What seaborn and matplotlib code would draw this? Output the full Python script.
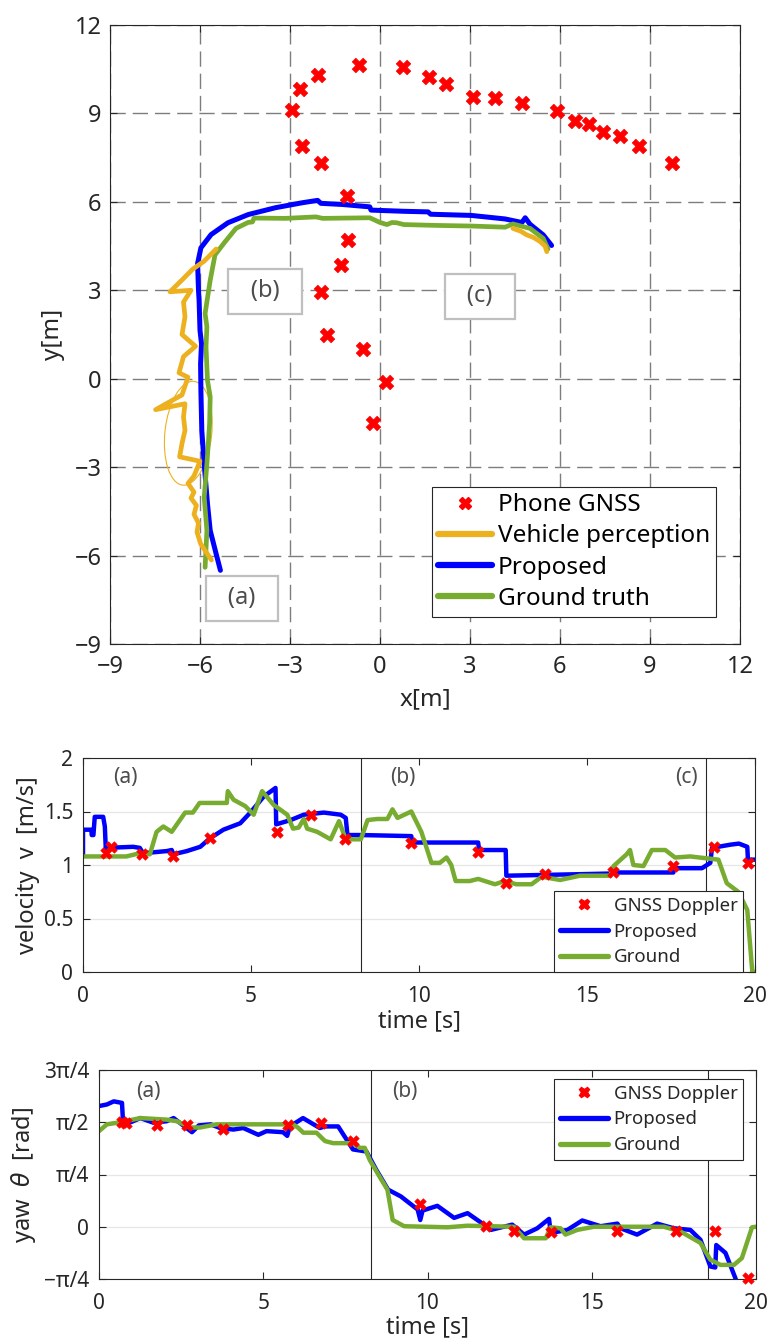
import numpy as np
import pandas as pd
import matplotlib
matplotlib.use("Agg")
import matplotlib.pyplot as plt
import seaborn as sns
from matplotlib.patches import Ellipse
from matplotlib.lines import Line2D

# ---------------------------------------------------------------- data
# 2-D trajectories [x, y] in metres
phone_gnss = np.array([
    [-0.23, -1.51], [0.20, -0.10], [-0.56, 1.02], [-1.75, 1.48], [-1.95, 2.94],
    [-1.31, 3.85], [-1.07, 4.72], [-1.10, 6.20], [-1.97, 7.32], [-2.59, 7.90],
    [-2.92, 9.12], [-2.68, 9.82], [-2.05, 10.31], [-0.71, 10.65], [0.78, 10.59],
    [1.62, 10.22], [2.21, 10.01], [3.11, 9.56], [3.83, 9.54], [4.73, 9.35],
    [5.91, 9.09], [6.51, 8.75], [6.98, 8.64], [7.44, 8.38], [8.01, 8.24],
    [8.65, 7.90], [9.74, 7.31],
])

perception_left = np.array([
    [-5.62, -6.15], [-5.98, -5.60], [-6.10, -5.20], [-6.05, -4.90], [-6.20, -4.60],
    [-6.12, -4.30], [-6.30, -4.05], [-6.20, -3.85], [-6.40, -3.55], [-6.20, -3.30],
    [-6.00, -2.80], [-6.68, -2.65], [-6.60, -2.20], [-6.50, -1.75], [-6.55, -1.30],
    [-6.50, -0.85], [-7.48, -1.05], [-6.90, -0.72], [-6.60, -0.55], [-6.40, 0.05],
    [-6.70, 0.20], [-6.55, 0.75], [-6.15, 1.10], [-6.60, 1.50], [-6.50, 2.10],
    [-6.55, 2.60], [-6.30, 3.00], [-7.00, 2.95], [-6.55, 3.40], [-6.25, 3.71],
    [-5.86, 3.99], [-5.46, 4.40],
])
perception_right = np.array([
    [4.43, 5.10], [4.70, 5.00], [4.89, 4.88], [5.10, 4.80], [5.33, 4.66],
    [5.50, 4.50], [5.56, 4.31],
])

proposed_xy = np.array([
    [-5.32, -6.50], [-5.49, -5.83], [-5.66, -5.15], [-5.75, -4.25], [-5.86, -2.89],
    [-5.94, -1.76], [-5.97, -0.40], [-5.98, 0.51], [-5.95, 1.19], [-6.00, 1.64],
    [-6.03, 2.66], [-6.05, 3.00], [-6.08, 3.91], [-5.97, 4.44], [-5.63, 4.89],
    [-5.07, 5.29], [-4.39, 5.57], [-3.49, 5.80], [-2.59, 5.97], [-2.08, 6.05],
    [-1.97, 5.95], [-1.24, 5.91], [-0.34, 5.83], [-0.30, 5.72], [0.79, 5.68],
    [1.60, 5.66], [1.69, 5.58], [3.04, 5.54], [4.17, 5.42], [4.73, 5.30],
    [4.84, 5.46], [5.00, 5.24], [5.44, 4.88], [5.72, 4.52],
])

ground_xy = np.array([
    [-5.83, -6.40], [-5.77, -5.15], [-5.86, -4.02], [-5.77, -2.89], [-5.68, -1.53],
    [-5.66, -0.62], [-5.75, -0.06], [-5.80, 1.08], [-5.77, 1.76], [-5.83, 2.21],
    [-5.66, 3.34], [-5.50, 4.20], [-5.20, 4.60], [-4.80, 5.10], [-4.40, 5.30],
    [-4.25, 5.32], [-4.20, 5.45], [-3.15, 5.44], [-2.14, 5.49], [-1.91, 5.44],
    [-0.34, 5.46], [0.00, 5.30], [0.23, 5.23], [0.40, 5.30], [0.56, 5.29],
    [0.79, 5.23], [1.91, 5.20], [3.04, 5.18], [4.17, 5.14], [4.43, 5.25],
    [5.00, 5.10], [5.44, 4.76], [5.60, 4.40],
])

# perception uncertainty ellipse: centre, full width, full height (m), tilt (deg)
ellipse_center = (-6.39, -1.85)
ellipse_size = (1.56, 3.54)
ellipse_angle = -6

# velocity time series [t (s), v (m/s)]
doppler_vel = np.array([
    [0.68, 1.11], [0.83, 1.17], [1.77, 1.10], [2.67, 1.08], [3.78, 1.25],
    [5.76, 1.31], [6.79, 1.47], [7.79, 1.24], [9.77, 1.21], [11.76, 1.12],
    [12.60, 0.83], [13.75, 0.92], [15.77, 0.93], [17.55, 0.99], [18.77, 1.17],
    [19.78, 1.02],
])
proposed_vel = np.array([
    [0.00, 1.08], [0.00, 1.33], [0.25, 1.33], [0.26, 1.28], [0.31, 1.28],
    [0.35, 1.45], [0.60, 1.45], [0.65, 1.36], [0.68, 1.14], [0.70, 1.16],
    [1.49, 1.17], [1.69, 1.16], [1.79, 1.11], [2.49, 1.13], [2.64, 1.14],
    [2.69, 1.10], [3.09, 1.13], [3.49, 1.17], [3.78, 1.25], [4.18, 1.33],
    [4.68, 1.39], [4.98, 1.49], [5.38, 1.64], [5.73, 1.72], [5.75, 1.38],
    [6.18, 1.42], [6.57, 1.47], [7.17, 1.49], [7.67, 1.47], [7.82, 1.44],
    [7.87, 1.28], [8.27, 1.28], [9.77, 1.27], [9.80, 1.21], [11.76, 1.21],
    [11.79, 1.14], [12.58, 1.14], [12.60, 0.90], [15.69, 0.92], [15.79, 0.93],
    [17.57, 0.93], [17.59, 0.97], [18.42, 0.97], [18.67, 1.02], [18.72, 1.16],
    [19.27, 1.19], [19.52, 1.20], [19.77, 1.17], [19.79, 1.05], [20.00, 1.05],
])
ground_vel = np.array([
    [0.00, 1.08], [1.29, 1.08], [1.69, 1.11], [1.99, 1.10], [2.19, 1.31],
    [2.39, 1.36], [2.64, 1.31], [3.04, 1.49], [3.27, 1.49], [3.47, 1.58],
    [4.28, 1.58], [4.31, 1.69], [4.48, 1.61], [4.83, 1.55], [5.08, 1.47],
    [5.33, 1.69], [5.68, 1.56], [6.08, 1.47], [6.25, 1.34], [6.42, 1.35],
    [6.57, 1.43], [6.67, 1.34], [6.97, 1.31], [7.37, 1.24], [7.62, 1.41],
    [7.82, 1.24], [8.27, 1.24], [8.47, 1.42], [8.76, 1.43], [9.06, 1.43],
    [9.21, 1.52], [9.36, 1.44], [9.77, 1.50], [10.07, 1.31], [10.37, 1.02],
    [10.62, 1.02], [10.82, 1.07], [10.96, 1.00], [11.09, 0.85], [11.51, 0.85],
    [11.76, 0.87], [12.26, 0.82], [12.55, 0.85], [12.90, 0.82], [13.35, 0.82],
    [13.65, 0.89], [14.20, 0.86], [14.79, 0.90], [15.69, 0.90], [15.79, 0.99],
    [16.18, 1.10], [16.28, 1.14], [16.38, 1.00], [16.68, 0.99], [16.93, 1.14],
    [17.33, 1.14], [17.62, 1.07], [18.07, 1.08], [18.91, 1.05], [19.16, 0.83],
    [19.50, 0.75], [19.77, 0.58], [19.92, 0.00], [20.00, 0.00],
])

# yaw time series [t (s), yaw in quarter-pi units]
doppler_yaw = np.array([
    [0.70, 2.00], [0.83, 1.99], [1.76, 1.94], [2.67, 1.94], [3.77, 1.87],
    [5.74, 1.94], [6.76, 1.99], [7.74, 1.64], [9.78, 0.44], [11.77, 0.02],
    [12.63, -0.09], [13.75, -0.11], [15.76, -0.09], [17.55, -0.09], [18.76, -0.08],
    [19.76, -0.98],
])
proposed_yaw = np.array([
    [0.00, 2.31], [0.24, 2.34], [0.45, 2.40], [0.70, 2.37], [0.73, 2.02],
    [0.85, 1.97], [1.26, 2.08], [1.66, 1.99], [2.06, 2.02], [2.27, 2.08],
    [2.52, 1.96], [2.83, 1.81], [3.04, 1.94], [3.40, 1.96], [3.68, 1.89],
    [4.09, 1.86], [4.39, 1.89], [4.85, 1.76], [5.10, 1.83], [5.60, 1.81],
    [5.73, 1.74], [5.81, 1.92], [6.21, 2.08], [6.72, 1.89], [6.88, 1.92],
    [7.28, 1.92], [7.73, 1.48], [8.14, 1.44], [8.44, 1.09], [8.80, 0.71],
    [9.19, 0.58], [9.70, 0.33], [9.78, 0.13], [9.85, 0.31], [10.30, 0.40],
    [10.81, 0.17], [11.22, 0.26], [11.72, 0.04], [11.93, -0.06], [12.58, 0.04],
    [12.94, -0.15], [13.34, -0.03], [13.70, 0.15], [13.75, -0.12], [14.26, -0.06],
    [14.71, 0.12], [15.27, 0.01], [15.78, 0.06], [15.88, -0.03], [16.38, -0.15],
    [16.99, 0.06], [17.50, -0.03], [18.00, -0.06], [18.31, -0.25], [18.61, -0.76],
    [18.76, -0.78], [18.79, -0.35], [19.07, -0.50], [19.37, -0.98], [19.55, -1.30],
])
ground_yaw = np.array([
    [0.00, 1.83], [0.24, 1.96], [0.65, 2.00], [1.26, 2.08], [2.06, 2.05],
    [2.37, 2.02], [2.77, 1.90], [3.08, 1.90], [3.58, 1.96], [5.91, 1.96],
    [6.07, 1.89], [6.22, 1.80], [6.62, 1.80], [6.88, 1.64], [7.13, 1.60],
    [7.73, 1.60], [7.94, 1.51], [8.09, 1.51], [8.24, 1.28], [8.54, 0.96],
    [8.78, 0.71], [8.94, 0.13], [9.29, 0.01], [10.61, -0.01], [11.22, 0.02],
    [12.63, 0.00], [12.94, -0.22], [13.60, -0.22], [13.75, -0.01], [14.05, -0.03],
    [14.20, -0.15], [14.56, -0.06], [15.07, 0.00], [17.19, 0.00], [17.70, -0.09],
    [18.31, -0.31], [18.61, -0.63], [18.92, -0.73], [19.33, -0.73], [19.57, -0.60],
    [19.88, -0.01], [20.00, 0.00],
])

# phase boundaries (s) and phase tags
phase_bounds = [8.28, 18.55]
vel_phase_tags = [("(a)", 1.25), ("(b)", 9.52), ("(c)", 17.95)]
yaw_phase_tags = [("(a)", 1.49), ("(b)", 9.31)]
map_phase_tags = [("(a)", -4.6, -7.45), ("(b)", -3.83, 2.97), ("(c)", 3.33, 2.8)]

xy_ticks = [-9, -6, -3, 0, 3, 6, 9, 12]
vel_ticks = [0, 0.5, 1, 1.5, 2]
time_ticks = [0, 5, 10, 15, 20]
yaw_tick_labels = ["\u2212\u03c0/4", "0", "\u03c0/4", "\u03c0/2", "3\u03c0/4"]

# ---------------------------------------------------------------- style
sns.set_theme(style="ticks")
plt.rcParams["font.family"] = ["Noto Sans", "DejaVu Sans"]
plt.rcParams["mathtext.fontset"] = "dejavusans"

RED = "#FF0000"
BLUE = "#0000FF"
GREEN = "#77AC30"
ORANGE = "#EDB120"
INK = "#262626"
TAG = "#4D4D4D"

fig = plt.figure(figsize=(7.71, 13.41), dpi=100)
W, H = 771, 1341


def px_axes(l, t, r, b):
    return fig.add_axes([l / W, 1 - b / H, (r - l) / W, (b - t) / H])


def frame(ax, size, xpad, ypad):
    for s in ax.spines.values():
        s.set_color(INK)
        s.set_linewidth(0.8)
    ax.tick_params(direction="in", top=True, right=True, length=5,
                   width=0.8, colors=INK, labelsize=size, labelcolor=INK)
    ax.tick_params(axis="x", pad=xpad)
    ax.tick_params(axis="y", pad=ypad)


def traj(ax, arr, color, lw, label=None):
    df = pd.DataFrame(arr, columns=["x", "y"])
    sns.lineplot(data=df, x="x", y="y", sort=False, estimator=None, color=color,
                 lw=lw, ax=ax, label=label, legend=False,
                 solid_joinstyle="round", solid_capstyle="round")


# ---------------------------------------------------------------- map
ax1 = px_axes(110, 25, 740, 644)
frame(ax1, 17, 8, 6)
ax1.set_xlim(-9, 12)
ax1.set_ylim(-9, 12)
ax1.set_xticks(xy_ticks)
ax1.set_yticks(xy_ticks)
ax1.set_xticklabels([str(v).replace("-", "\u2212") for v in xy_ticks])
ax1.set_yticklabels([str(v).replace("-", "\u2212") for v in xy_ticks])
ax1.grid(True, color="#262626", alpha=0.6, lw=1.0, dashes=(11, 5))

traj(ax1, proposed_xy, BLUE, 3.6)
traj(ax1, ground_xy, GREEN, 3.4)
traj(ax1, perception_left, ORANGE, 3.4)
traj(ax1, perception_right, ORANGE, 3.4)
ax1.add_patch(Ellipse(ellipse_center, ellipse_size[0], ellipse_size[1],
                      angle=ellipse_angle, fill=False, ec=ORANGE, lw=0.8))
sns.scatterplot(x=phone_gnss[:, 0], y=phone_gnss[:, 1], marker="X", s=110,
                color=RED, edgecolor=RED, linewidth=0.5, ax=ax1, zorder=5)

for txt, x, y in map_phase_tags:
    ax1.text(x, y, "\u2002" + txt + "\u2002", fontsize=17, color=TAG,
             ha="center", va="center", zorder=6,
             bbox=dict(boxstyle="square,pad=0.45", fc="white", ec="#BFBFBF", lw=1.6))

ax1.set_xlabel("x[m]", fontsize=17.5, color=INK, labelpad=6)
ax1.set_ylabel("y[m]", fontsize=17.5, color=INK, labelpad=7)

map_handles = [
    Line2D([], [], ls="none", marker="X", ms=9, color=RED, mec=RED),
    Line2D([], [], color=ORANGE, lw=4.5),
    Line2D([], [], color=BLUE, lw=4.5),
    Line2D([], [], color=GREEN, lw=4.5),
]
leg = ax1.legend(map_handles, ["Phone GNSS", "Vehicle perception", "Proposed", "Ground truth"],
                 loc="upper right", bbox_to_anchor=(716 / W, 1 - 487 / H),
                 bbox_transform=fig.transFigure, fontsize=17.5, frameon=True,
                 fancybox=False, framealpha=1, edgecolor=INK, handlelength=2.2,
                 handletextpad=0.25, borderpad=0.25, labelspacing=0.3,
                 borderaxespad=0)
leg.get_frame().set_linewidth(0.8)
for t in leg.get_texts():
    t.set_color("black")

# ---------------------------------------------------------------- series panels
def series_panel(ax, ref, prop, gnd):
    sns.lineplot(x=prop[:, 0], y=prop[:, 1], sort=False, estimator=None, color=BLUE,
                 lw=3.2, ax=ax, label="Proposed", legend=False)
    sns.lineplot(x=gnd[:, 0], y=gnd[:, 1], sort=False, estimator=None, color=GREEN,
                 lw=3.2, ax=ax, label="Ground", legend=False)
    sns.scatterplot(x=ref[:, 0], y=ref[:, 1], marker="X", s=70, color=RED,
                    edgecolor=RED, linewidth=0.4, ax=ax, zorder=5, label="GNSS Doppler",
                    legend=False, clip_on=False)
    for b in phase_bounds:
        ax.axvline(b, color="#262626", lw=0.8, zorder=1)
    ax.set_xlim(0, 20)
    ax.set_xticks(time_ticks)
    ax.grid(True, axis="y", color="#E6E6E6", lw=0.9, zorder=0)
    ax.set_axisbelow(True)
    frame(ax, 15, 10, 7)


def series_legend(ax, anchor, loc):
    h = [Line2D([], [], ls="none", marker="X", ms=7.5, color=RED, mec=RED),
         Line2D([], [], color=BLUE, lw=3.8),
         Line2D([], [], color=GREEN, lw=3.8)]
    lg = ax.legend(h, ["GNSS Doppler", "Proposed", "Ground"], loc=loc,
                   bbox_to_anchor=anchor, bbox_transform=fig.transFigure,
                   fontsize=13.4, frameon=True, fancybox=False, framealpha=1,
                   edgecolor=INK, handlelength=2.6, handletextpad=0.3,
                   borderpad=0.3, labelspacing=0.42, borderaxespad=0)
    lg.get_frame().set_linewidth(0.8)
    lg.set_zorder(10)


# velocity
ax2 = px_axes(83, 758, 755, 972)
series_panel(ax2, doppler_vel, proposed_vel, ground_vel)
ax2.set_ylim(0, 2)
ax2.set_yticks(vel_ticks)
ax2.set_yticklabels(["0", "0.5", "1", "1.5", "2"])
ax2.set_xlabel("time [s]", fontsize=17, color=INK, labelpad=2)
ax2.set_ylabel("velocity  v  [m/s]", fontsize=17, color=INK, labelpad=3)
for txt, x in vel_phase_tags:
    ax2.text(x, 1.82, txt, fontsize=15, color=TAG, ha="center", va="center")
series_legend(ax2, (743 / W, 1 - 972 / H), "lower right")

# yaw
ax3 = px_axes(99, 1070, 756, 1279)
yaw_to_rad = np.pi / 4
series_panel(ax3,
             np.column_stack([doppler_yaw[:, 0], doppler_yaw[:, 1] * yaw_to_rad]),
             np.column_stack([proposed_yaw[:, 0], proposed_yaw[:, 1] * yaw_to_rad]),
             np.column_stack([ground_yaw[:, 0], ground_yaw[:, 1] * yaw_to_rad]))
ax3.set_ylim(-np.pi / 4, 3 * np.pi / 4)
ax3.set_yticks([-np.pi / 4, 0, np.pi / 4, np.pi / 2, 3 * np.pi / 4])
ax3.set_yticklabels(yaw_tick_labels)
ax3.set_xlabel("time [s]", fontsize=17, color=INK, labelpad=1)
ax3.set_ylabel("yaw  $\\theta$  [rad]", fontsize=17, color=INK, labelpad=4)
for txt, x in yaw_phase_tags:
    ax3.text(x, 2.03, txt, fontsize=15, color=TAG, ha="center", va="center")
series_legend(ax3, (743 / W, 1 - 1079 / H), "upper right")

fig.savefig("out.png", dpi=100)
